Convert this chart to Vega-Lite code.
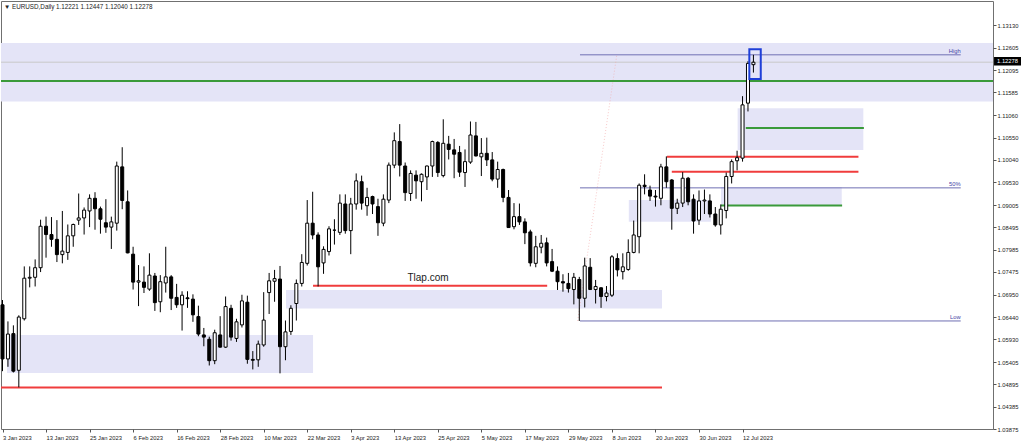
{
  "$schema": "https://vega.github.io/schema/vega-lite/v6.json",
  "width": 992,
  "height": 428,
  "autosize": {"type": "none"},
  "padding": {"left": 1, "top": 1, "right": 31, "bottom": 17},
  "background": "white",
  "config": {
    "font": "Liberation Sans",
    "view": {"stroke": "#707070", "strokeWidth": 1},
    "axis": {"grid": false, "domain": false, "labelFontSize": 5.8, "labelColor": "#222222", "tickColor": "#555555", "tickSize": 3, "labelOverlap": false, "labelFlush": false, "labelBound": false},
    "axisY": {"labelOverlap": false, "tickCount": 40},
    "axisX": {"labelOverlap": false, "tickCount": 40}
  },
  "datasets": {
    "candles": [
      {"i":0,"d":"2023-01-03","o":1.0672,"h":1.0683,"l":1.0520,"c":1.0548},
      {"i":1,"d":"2023-01-04","o":1.0548,"h":1.0634,"l":1.0530,"c":1.0605},
      {"i":2,"d":"2023-01-05","o":1.0606,"h":1.0625,"l":1.0517,"c":1.0520},
      {"i":3,"d":"2023-01-06","o":1.0522,"h":1.0648,"l":1.0483,"c":1.0644},
      {"i":4,"d":"2023-01-09","o":1.0640,"h":1.0760,"l":1.0636,"c":1.0733},
      {"i":5,"d":"2023-01-10","o":1.0733,"h":1.0760,"l":1.0712,"c":1.0735},
      {"i":6,"d":"2023-01-11","o":1.0735,"h":1.0776,"l":1.0714,"c":1.0757},
      {"i":7,"d":"2023-01-12","o":1.0757,"h":1.0867,"l":1.0747,"c":1.0852},
      {"i":8,"d":"2023-01-13","o":1.0852,"h":1.0874,"l":1.0780,"c":1.0833},
      {"i":9,"d":"2023-01-16","o":1.0833,"h":1.0873,"l":1.0805,"c":1.0822},
      {"i":10,"d":"2023-01-17","o":1.0822,"h":1.0866,"l":1.0770,"c":1.0787},
      {"i":11,"d":"2023-01-18","o":1.0787,"h":1.0887,"l":1.0767,"c":1.0795},
      {"i":12,"d":"2023-01-19","o":1.0792,"h":1.0856,"l":1.0775,"c":1.0830},
      {"i":13,"d":"2023-01-20","o":1.0830,"h":1.0858,"l":1.0805,"c":1.0856},
      {"i":14,"d":"2023-01-23","o":1.0866,"h":1.0927,"l":1.0855,"c":1.0871},
      {"i":15,"d":"2023-01-24","o":1.0871,"h":1.0895,"l":1.0833,"c":1.0889},
      {"i":16,"d":"2023-01-25","o":1.0887,"h":1.0925,"l":1.0850,"c":1.0916},
      {"i":17,"d":"2023-01-26","o":1.0916,"h":1.0930,"l":1.0844,"c":1.0892},
      {"i":18,"d":"2023-01-27","o":1.0892,"h":1.0897,"l":1.0835,"c":1.0868},
      {"i":19,"d":"2023-01-30","o":1.0860,"h":1.0914,"l":1.0837,"c":1.0850},
      {"i":20,"d":"2023-01-31","o":1.0850,"h":1.0874,"l":1.0800,"c":1.0862},
      {"i":21,"d":"2023-02-01","o":1.0859,"h":1.1000,"l":1.0842,"c":1.0990},
      {"i":22,"d":"2023-02-02","o":1.0988,"h":1.1033,"l":1.0891,"c":1.0911},
      {"i":23,"d":"2023-02-03","o":1.0908,"h":1.0934,"l":1.0790,"c":1.0791},
      {"i":24,"d":"2023-02-06","o":1.0788,"h":1.0805,"l":1.0707,"c":1.0724},
      {"i":25,"d":"2023-02-07","o":1.0724,"h":1.0763,"l":1.0669,"c":1.0727},
      {"i":26,"d":"2023-02-08","o":1.0724,"h":1.0760,"l":1.0699,"c":1.0712},
      {"i":27,"d":"2023-02-09","o":1.0708,"h":1.0790,"l":1.0704,"c":1.0740},
      {"i":28,"d":"2023-02-10","o":1.0738,"h":1.0745,"l":1.0658,"c":1.0677},
      {"i":29,"d":"2023-02-13","o":1.0679,"h":1.0740,"l":1.0655,"c":1.0725},
      {"i":30,"d":"2023-02-14","o":1.0722,"h":1.0805,"l":1.0700,"c":1.0736},
      {"i":31,"d":"2023-02-15","o":1.0736,"h":1.0740,"l":1.0660,"c":1.0687},
      {"i":32,"d":"2023-02-16","o":1.0689,"h":1.0720,"l":1.0665,"c":1.0672},
      {"i":33,"d":"2023-02-17","o":1.0672,"h":1.0703,"l":1.0613,"c":1.0694},
      {"i":34,"d":"2023-02-20","o":1.0688,"h":1.0703,"l":1.0665,"c":1.0686},
      {"i":35,"d":"2023-02-21","o":1.0685,"h":1.0696,"l":1.0633,"c":1.0649},
      {"i":36,"d":"2023-02-22","o":1.0645,"h":1.0670,"l":1.0600,"c":1.0605},
      {"i":37,"d":"2023-02-23","o":1.0603,"h":1.0619,"l":1.0577,"c":1.0598},
      {"i":38,"d":"2023-02-24","o":1.0593,"h":1.0599,"l":1.0533,"c":1.0544},
      {"i":39,"d":"2023-02-27","o":1.0544,"h":1.0615,"l":1.0536,"c":1.0608},
      {"i":40,"d":"2023-02-28","o":1.0603,"h":1.0646,"l":1.0574,"c":1.0575},
      {"i":41,"d":"2023-03-01","o":1.0575,"h":1.0691,"l":1.0573,"c":1.0668},
      {"i":42,"d":"2023-03-02","o":1.0664,"h":1.0672,"l":1.0590,"c":1.0598},
      {"i":43,"d":"2023-03-03","o":1.0595,"h":1.0640,"l":1.0587,"c":1.0633},
      {"i":44,"d":"2023-03-06","o":1.0626,"h":1.0695,"l":1.0620,"c":1.0681},
      {"i":45,"d":"2023-03-07","o":1.0678,"h":1.0693,"l":1.0537,"c":1.0547},
      {"i":46,"d":"2023-03-08","o":1.0547,"h":1.0566,"l":1.0524,"c":1.0545},
      {"i":47,"d":"2023-03-09","o":1.0546,"h":1.0590,"l":1.0530,"c":1.0582},
      {"i":48,"d":"2023-03-10","o":1.0580,"h":1.0701,"l":1.0576,"c":1.0637},
      {"i":49,"d":"2023-03-13","o":1.0700,"h":1.0745,"l":1.0651,"c":1.0727},
      {"i":50,"d":"2023-03-14","o":1.0726,"h":1.0752,"l":1.0679,"c":1.0732},
      {"i":51,"d":"2023-03-15","o":1.0731,"h":1.0761,"l":1.0515,"c":1.0576},
      {"i":52,"d":"2023-03-16","o":1.0576,"h":1.0636,"l":1.0545,"c":1.0610},
      {"i":53,"d":"2023-03-17","o":1.0611,"h":1.0671,"l":1.0603,"c":1.0664},
      {"i":54,"d":"2023-03-20","o":1.0675,"h":1.0730,"l":1.0636,"c":1.0721},
      {"i":55,"d":"2023-03-21","o":1.0721,"h":1.0788,"l":1.0714,"c":1.0769},
      {"i":56,"d":"2023-03-22","o":1.0767,"h":1.0912,"l":1.0762,"c":1.0859},
      {"i":57,"d":"2023-03-23","o":1.0859,"h":1.0931,"l":1.0822,"c":1.0832},
      {"i":58,"d":"2023-03-24","o":1.0832,"h":1.0838,"l":1.0714,"c":1.0759},
      {"i":59,"d":"2023-03-27","o":1.0768,"h":1.0806,"l":1.0743,"c":1.0799},
      {"i":60,"d":"2023-03-28","o":1.0794,"h":1.0852,"l":1.0785,"c":1.0846},
      {"i":61,"d":"2023-03-29","o":1.0843,"h":1.0868,"l":1.0810,"c":1.0843},
      {"i":62,"d":"2023-03-30","o":1.0838,"h":1.0925,"l":1.0832,"c":1.0905},
      {"i":63,"d":"2023-03-31","o":1.0903,"h":1.0925,"l":1.0835,"c":1.0842},
      {"i":64,"d":"2023-04-03","o":1.0842,"h":1.0917,"l":1.0788,"c":1.0903},
      {"i":65,"d":"2023-04-04","o":1.0903,"h":1.0973,"l":1.0890,"c":1.0956},
      {"i":66,"d":"2023-04-05","o":1.0954,"h":1.0968,"l":1.0890,"c":1.0905},
      {"i":67,"d":"2023-04-06","o":1.0899,"h":1.0940,"l":1.0876,"c":1.0918},
      {"i":68,"d":"2023-04-07","o":1.0920,"h":1.0922,"l":1.0880,"c":1.0903},
      {"i":69,"d":"2023-04-10","o":1.0897,"h":1.0915,"l":1.0830,"c":1.0860},
      {"i":70,"d":"2023-04-11","o":1.0859,"h":1.0925,"l":1.0852,"c":1.0914},
      {"i":71,"d":"2023-04-12","o":1.0912,"h":1.0998,"l":1.0905,"c":1.0992},
      {"i":72,"d":"2023-04-13","o":1.0992,"h":1.1067,"l":1.0985,"c":1.1048},
      {"i":73,"d":"2023-04-14","o":1.1046,"h":1.1086,"l":1.0966,"c":1.0992},
      {"i":74,"d":"2023-04-17","o":1.0990,"h":1.0998,"l":1.0910,"c":1.0929},
      {"i":75,"d":"2023-04-18","o":1.0927,"h":1.0980,"l":1.0910,"c":1.0973},
      {"i":76,"d":"2023-04-19","o":1.0969,"h":1.0980,"l":1.0915,"c":1.0956},
      {"i":77,"d":"2023-04-20","o":1.0954,"h":1.0973,"l":1.0909,"c":1.0971},
      {"i":78,"d":"2023-04-21","o":1.0965,"h":1.0991,"l":1.0935,"c":1.0990},
      {"i":79,"d":"2023-04-24","o":1.0990,"h":1.1048,"l":1.0965,"c":1.1046},
      {"i":80,"d":"2023-04-25","o":1.1044,"h":1.1047,"l":1.0965,"c":1.0975},
      {"i":81,"d":"2023-04-26","o":1.0968,"h":1.1097,"l":1.0964,"c":1.1042},
      {"i":82,"d":"2023-04-27","o":1.1040,"h":1.1059,"l":1.1005,"c":1.1028},
      {"i":83,"d":"2023-04-28","o":1.1027,"h":1.1052,"l":1.0962,"c":1.1017},
      {"i":84,"d":"2023-05-01","o":1.1021,"h":1.1036,"l":1.0965,"c":1.0976},
      {"i":85,"d":"2023-05-02","o":1.0975,"h":1.1028,"l":1.0942,"c":1.1000},
      {"i":86,"d":"2023-05-03","o":1.0999,"h":1.1092,"l":1.0995,"c":1.1061},
      {"i":87,"d":"2023-05-04","o":1.1059,"h":1.1091,"l":1.1012,"c":1.1013},
      {"i":88,"d":"2023-05-05","o":1.1011,"h":1.1054,"l":1.0967,"c":1.1019},
      {"i":89,"d":"2023-05-08","o":1.1019,"h":1.1055,"l":1.0990,"c":1.1004},
      {"i":90,"d":"2023-05-09","o":1.1004,"h":1.1022,"l":1.0955,"c":1.0960},
      {"i":91,"d":"2023-05-10","o":1.0960,"h":1.1000,"l":1.0940,"c":1.0982},
      {"i":92,"d":"2023-05-11","o":1.0982,"h":1.0984,"l":1.0907,"c":1.0918},
      {"i":93,"d":"2023-05-12","o":1.0918,"h":1.0935,"l":1.0848,"c":1.0849},
      {"i":94,"d":"2023-05-15","o":1.0851,"h":1.0905,"l":1.0845,"c":1.0874},
      {"i":95,"d":"2023-05-16","o":1.0874,"h":1.0904,"l":1.0855,"c":1.0862},
      {"i":96,"d":"2023-05-17","o":1.0862,"h":1.0870,"l":1.0811,"c":1.0837},
      {"i":97,"d":"2023-05-18","o":1.0839,"h":1.0844,"l":1.0760,"c":1.0768},
      {"i":98,"d":"2023-05-19","o":1.0767,"h":1.0830,"l":1.0758,"c":1.0805},
      {"i":99,"d":"2023-05-22","o":1.0804,"h":1.0832,"l":1.0790,"c":1.0813},
      {"i":100,"d":"2023-05-23","o":1.0814,"h":1.0826,"l":1.0760,"c":1.0768},
      {"i":101,"d":"2023-05-24","o":1.0771,"h":1.0800,"l":1.0747,"c":1.0749},
      {"i":102,"d":"2023-05-25","o":1.0749,"h":1.0760,"l":1.0706,"c":1.0725},
      {"i":103,"d":"2023-05-26","o":1.0725,"h":1.0742,"l":1.0702,"c":1.0722},
      {"i":104,"d":"2023-05-29","o":1.0721,"h":1.0745,"l":1.0700,"c":1.0709},
      {"i":105,"d":"2023-05-30","o":1.0707,"h":1.0745,"l":1.0673,"c":1.0735},
      {"i":106,"d":"2023-05-31","o":1.0730,"h":1.0736,"l":1.0635,"c":1.0687},
      {"i":107,"d":"2023-06-01","o":1.0687,"h":1.0780,"l":1.0666,"c":1.0761},
      {"i":108,"d":"2023-06-02","o":1.0758,"h":1.0779,"l":1.0706,"c":1.0707},
      {"i":109,"d":"2023-06-05","o":1.0707,"h":1.0729,"l":1.0675,"c":1.0714},
      {"i":110,"d":"2023-06-06","o":1.0711,"h":1.0712,"l":1.0665,"c":1.0691},
      {"i":111,"d":"2023-06-07","o":1.0691,"h":1.0715,"l":1.0680,"c":1.0699},
      {"i":112,"d":"2023-06-08","o":1.0694,"h":1.0786,"l":1.0690,"c":1.0782},
      {"i":113,"d":"2023-06-09","o":1.0778,"h":1.0790,"l":1.0737,"c":1.0752},
      {"i":114,"d":"2023-06-12","o":1.0748,"h":1.0790,"l":1.0730,"c":1.0759},
      {"i":115,"d":"2023-06-13","o":1.0753,"h":1.0822,"l":1.0750,"c":1.0792},
      {"i":116,"d":"2023-06-14","o":1.0792,"h":1.0865,"l":1.0790,"c":1.0832},
      {"i":117,"d":"2023-06-15","o":1.0828,"h":1.0950,"l":1.0790,"c":1.0946},
      {"i":118,"d":"2023-06-16","o":1.0946,"h":1.0971,"l":1.0925,"c":1.0943},
      {"i":119,"d":"2023-06-19","o":1.0935,"h":1.0945,"l":1.0910,"c":1.0921},
      {"i":120,"d":"2023-06-20","o":1.0921,"h":1.0935,"l":1.0897,"c":1.0919},
      {"i":121,"d":"2023-06-21","o":1.0916,"h":1.0995,"l":1.0900,"c":1.0988},
      {"i":122,"d":"2023-06-22","o":1.0988,"h":1.1012,"l":1.0940,"c":1.0954},
      {"i":123,"d":"2023-06-23","o":1.0958,"h":1.0960,"l":1.0844,"c":1.0893},
      {"i":124,"d":"2023-06-26","o":1.0893,"h":1.0915,"l":1.0880,"c":1.0905},
      {"i":125,"d":"2023-06-27","o":1.0905,"h":1.0976,"l":1.0896,"c":1.0962},
      {"i":126,"d":"2023-06-28","o":1.0962,"h":1.0965,"l":1.0900,"c":1.0908},
      {"i":127,"d":"2023-06-29","o":1.0914,"h":1.0925,"l":1.0835,"c":1.0864},
      {"i":128,"d":"2023-06-30","o":1.0866,"h":1.0934,"l":1.0855,"c":1.0910},
      {"i":129,"d":"2023-07-03","o":1.0910,"h":1.0936,"l":1.0880,"c":1.0912},
      {"i":130,"d":"2023-07-04","o":1.0910,"h":1.0925,"l":1.0872,"c":1.0880},
      {"i":131,"d":"2023-07-05","o":1.0880,"h":1.0896,"l":1.0851,"c":1.0855},
      {"i":132,"d":"2023-07-06","o":1.0855,"h":1.0902,"l":1.0833,"c":1.0891},
      {"i":133,"d":"2023-07-07","o":1.0888,"h":1.0975,"l":1.0870,"c":1.0966},
      {"i":134,"d":"2023-07-10","o":1.0966,"h":1.1005,"l":1.0950,"c":1.1000},
      {"i":135,"d":"2023-07-11","o":1.1002,"h":1.1025,"l":1.0980,"c":1.1009},
      {"i":136,"d":"2023-07-12","o":1.1008,"h":1.1150,"l":1.1000,"c":1.1130},
      {"i":137,"d":"2023-07-13","o":1.1134,"h":1.1230,"l":1.1115,"c":1.1225},
      {"i":138,"d":"2023-07-14","o":1.12221,"h":1.12447,"l":1.12040,"c":1.12278}
    ],
    "zones": [
      {"x": -0.2757, "x2": 182.03, "y": 1.11378, "y2": 1.12718},
      {"x": 0.83, "x2": 57.07, "y": 1.05158, "y2": 1.06028},
      {"x": 52.1, "x2": 121.2, "y": 1.06635, "y2": 1.07059},
      {"x": 115.1, "x2": 130.2, "y": 1.08624, "y2": 1.09121},
      {"x": 132.05, "x2": 154.23, "y": 1.08996, "y2": 1.09419},
      {"x": 135.1, "x2": 158.2, "y": 1.10266, "y2": 1.11222}
    ],
    "redLines": [
      {"x": -0.2757, "x2": 121.2, "y": 1.04825},
      {"x": 57.07, "x2": 100.1, "y": 1.07158},
      {"x": 122.1, "x2": 157.3, "y": 1.10113},
      {"x": 123.0, "x2": 157.3, "y": 1.09769}
    ],
    "greenLines": [
      {"x": -0.2757, "x2": 182.03, "y": 1.11847},
      {"x": 136.6, "x2": 158.3, "y": 1.10771},
      {"x": 132.05, "x2": 154.3, "y": 1.08997}
    ],
    "fibo": [
      {"x": 106.13, "x2": 176.1, "y": 1.12447, "t": "High"},
      {"x": 106.13, "x2": 176.1, "y": 1.09399, "t": "50%"},
      {"x": 106.13, "x2": 176.1, "y": 1.06350, "t": "Low"}
    ]
  },
  "layer": [
    {
      "data": {"name": "zones"},
      "mark": {"type": "rect", "fill": "#E4E4F7"},
      "encoding": {
        "x": {
          "field": "x", "type": "quantitative", "title": null,
          "scale": {"domain": [-0.2757, 182.03], "nice": false, "zero": false, "padding": 0},
          "axis": {
            "orient": "bottom",
            "values": [0, 8, 16, 24, 32, 40, 48, 56, 64, 72, 80, 88, 96, 104, 112, 120, 128, 136],
            "tickCount": 40,
            "labelExpr": "['3 Jan 2023','13 Jan 2023','25 Jan 2023','6 Feb 2023','16 Feb 2023','28 Feb 2023','10 Mar 2023','22 Mar 2023','3 Apr 2023','13 Apr 2023','25 Apr 2023','5 May 2023','17 May 2023','29 May 2023','8 Jun 2023','20 Jun 2023','30 Jun 2023','12 Jul 2023'][round(datum.value / 8)]",
            "labelAlign": "left",
            "labelPadding": 2,
            "labelOverlap": false,
            "labelFlush": false,
            "labelBound": false
          }
        },
        "x2": {"field": "x2"},
        "y": {
          "field": "y", "type": "quantitative", "title": null,
          "scale": {"domain": [1.03875, 1.1368], "nice": false, "zero": false, "padding": 0},
          "axis": {
            "orient": "right",
            "values": [1.03875, 1.04385, 1.04895, 1.05405, 1.0593, 1.0644, 1.0695, 1.07475, 1.07985, 1.08495, 1.09005, 1.0953, 1.1004, 1.1055, 1.1106, 1.11585, 1.12095, 1.12605, 1.1313],
            "tickCount": 40,
            "format": ".5f",
            "labelPadding": 1,
            "labelOverlap": false,
            "labelFlush": false,
            "labelBound": false
          }
        },
        "y2": {"field": "y2"}
      }
    },
    {
      "data": {"values": [{"x": -0.2757, "x2": 182.03, "y": 1.12278}]},
      "mark": {"type": "rule", "color": "#C8C8C8", "strokeWidth": 1},
      "encoding": {
        "x": {"field": "x", "type": "quantitative", "title": null, "scale": {"domain": [-0.2757, 182.03], "nice": false, "zero": false, "padding": 0}},
        "x2": {"field": "x2"},
        "y": {"field": "y", "type": "quantitative", "title": null, "scale": {"domain": [1.03875, 1.1368], "nice": false, "zero": false, "padding": 0}}
      }
    },
    {
      "data": {"values": [{"x": 105.7, "y": 1.0635, "x2": 112.9, "y2": 1.12447}]},
      "mark": {"type": "rule", "color": "#F2A6A6", "strokeWidth": 1, "strokeDash": [1, 2], "opacity": 0.6},
      "encoding": {
        "x": {"field": "x", "type": "quantitative", "title": null, "scale": {"domain": [-0.2757, 182.03], "nice": false, "zero": false, "padding": 0}},
        "x2": {"field": "x2"},
        "y": {"field": "y", "type": "quantitative", "title": null, "scale": {"domain": [1.03875, 1.1368], "nice": false, "zero": false, "padding": 0}},
        "y2": {"field": "y2"}
      }
    },
    {
      "data": {"name": "fibo"},
      "mark": {"type": "rule", "color": "#6F6FB3", "strokeWidth": 1},
      "encoding": {
        "x": {"field": "x", "type": "quantitative", "title": null, "scale": {"domain": [-0.2757, 182.03], "nice": false, "zero": false, "padding": 0}},
        "x2": {"field": "x2"},
        "y": {"field": "y", "type": "quantitative", "title": null, "scale": {"domain": [1.03875, 1.1368], "nice": false, "zero": false, "padding": 0}}
      }
    },
    {
      "data": {"name": "fibo"},
      "mark": {"type": "text", "color": "#4646A6", "fontSize": 5.8, "align": "right", "baseline": "bottom", "dy": -0.5},
      "encoding": {
        "x": {"field": "x2", "type": "quantitative", "title": null, "scale": {"domain": [-0.2757, 182.03], "nice": false, "zero": false, "padding": 0}},
        "y": {"field": "y", "type": "quantitative", "title": null, "scale": {"domain": [1.03875, 1.1368], "nice": false, "zero": false, "padding": 0}},
        "text": {"field": "t"}
      }
    },
    {
      "data": {"name": "redLines"},
      "mark": {"type": "rule", "color": "#F03C3C", "strokeWidth": 2},
      "encoding": {
        "x": {"field": "x", "type": "quantitative", "title": null, "scale": {"domain": [-0.2757, 182.03], "nice": false, "zero": false, "padding": 0}},
        "x2": {"field": "x2"},
        "y": {"field": "y", "type": "quantitative", "title": null, "scale": {"domain": [1.03875, 1.1368], "nice": false, "zero": false, "padding": 0}}
      }
    },
    {
      "data": {"name": "greenLines"},
      "mark": {"type": "rule", "color": "#3A9A3A", "strokeWidth": 2},
      "encoding": {
        "x": {"field": "x", "type": "quantitative", "title": null, "scale": {"domain": [-0.2757, 182.03], "nice": false, "zero": false, "padding": 0}},
        "x2": {"field": "x2"},
        "y": {"field": "y", "type": "quantitative", "title": null, "scale": {"domain": [1.03875, 1.1368], "nice": false, "zero": false, "padding": 0}}
      }
    },
    {
      "data": {"name": "candles"},
      "mark": {"type": "rule", "color": "black", "strokeWidth": 1},
      "encoding": {
        "x": {"field": "i", "type": "quantitative", "title": null, "scale": {"domain": [-0.2757, 182.03], "nice": false, "zero": false, "padding": 0}},
        "y": {"field": "l", "type": "quantitative", "title": null, "scale": {"domain": [1.03875, 1.1368], "nice": false, "zero": false, "padding": 0}},
        "y2": {"field": "h"}
      }
    },
    {
      "data": {"name": "candles"},
      "mark": {"type": "bar", "size": 3, "stroke": "black", "strokeWidth": 1},
      "encoding": {
        "x": {"field": "i", "type": "quantitative", "title": null, "scale": {"domain": [-0.2757, 182.03], "nice": false, "zero": false, "padding": 0}},
        "y": {"field": "o", "type": "quantitative", "title": null, "scale": {"domain": [1.03875, 1.1368], "nice": false, "zero": false, "padding": 0}},
        "y2": {"field": "c"},
        "fill": {"condition": {"test": "datum.c >= datum.o", "value": "white"}, "value": "black"}
      }
    },
    {
      "data": {"values": [{"x": 137.25, "x2": 139.35, "y": 1.11893, "y2": 1.12573}]},
      "mark": {"type": "rect", "fill": null, "fillOpacity": 0, "stroke": "#1F3FD8", "strokeWidth": 2},
      "encoding": {
        "x": {"field": "x", "type": "quantitative", "title": null, "scale": {"domain": [-0.2757, 182.03], "nice": false, "zero": false, "padding": 0}},
        "x2": {"field": "x2"},
        "y": {"field": "y", "type": "quantitative", "title": null, "scale": {"domain": [1.03875, 1.1368], "nice": false, "zero": false, "padding": 0}},
        "y2": {"field": "y2"}
      }
    },
    {
      "data": {"values": [{"x": 78.2, "y": 1.07334, "t": "Tlap.com"}]},
      "mark": {"type": "text", "color": "#1A1A1A", "fontSize": 10, "align": "center", "baseline": "middle"},
      "encoding": {
        "x": {"field": "x", "type": "quantitative", "title": null, "scale": {"domain": [-0.2757, 182.03], "nice": false, "zero": false, "padding": 0}},
        "y": {"field": "y", "type": "quantitative", "title": null, "scale": {"domain": [1.03875, 1.1368], "nice": false, "zero": false, "padding": 0}},
        "text": {"field": "t"}
      }
    },
    {
      "data": {"values": [{"x": 0.28, "y": 1.13543, "t": "▼ EURUSD,Daily  1.12221 1.12447 1.12040 1.12278"}]},
      "mark": {"type": "text", "color": "#222222", "fontSize": 6.3, "align": "left", "baseline": "middle"},
      "encoding": {
        "x": {"field": "x", "type": "quantitative", "title": null, "scale": {"domain": [-0.2757, 182.03], "nice": false, "zero": false, "padding": 0}},
        "y": {"field": "y", "type": "quantitative", "title": null, "scale": {"domain": [1.03875, 1.1368], "nice": false, "zero": false, "padding": 0}},
        "text": {"field": "t"}
      }
    },
    {
      "data": {"values": [{"x": 182.22, "x2": 187.18, "y": 1.12202, "y2": 1.12397}]},
      "mark": {"type": "rect", "fill": "black"},
      "encoding": {
        "x": {"field": "x", "type": "quantitative", "title": null, "scale": {"domain": [-0.2757, 182.03], "nice": false, "zero": false, "padding": 0}},
        "x2": {"field": "x2"},
        "y": {"field": "y", "type": "quantitative", "title": null, "scale": {"domain": [1.03875, 1.1368], "nice": false, "zero": false, "padding": 0}},
        "y2": {"field": "y2"}
      }
    },
    {
      "data": {"values": [{"x": 184.7, "y": 1.12295, "t": "1.12278"}]},
      "mark": {"type": "text", "color": "white", "fontSize": 5.8, "align": "center", "baseline": "middle"},
      "encoding": {
        "x": {"field": "x", "type": "quantitative", "title": null, "scale": {"domain": [-0.2757, 182.03], "nice": false, "zero": false, "padding": 0}},
        "y": {"field": "y", "type": "quantitative", "title": null, "scale": {"domain": [1.03875, 1.1368], "nice": false, "zero": false, "padding": 0}},
        "text": {"field": "t"}
      }
    }
  ]
}
